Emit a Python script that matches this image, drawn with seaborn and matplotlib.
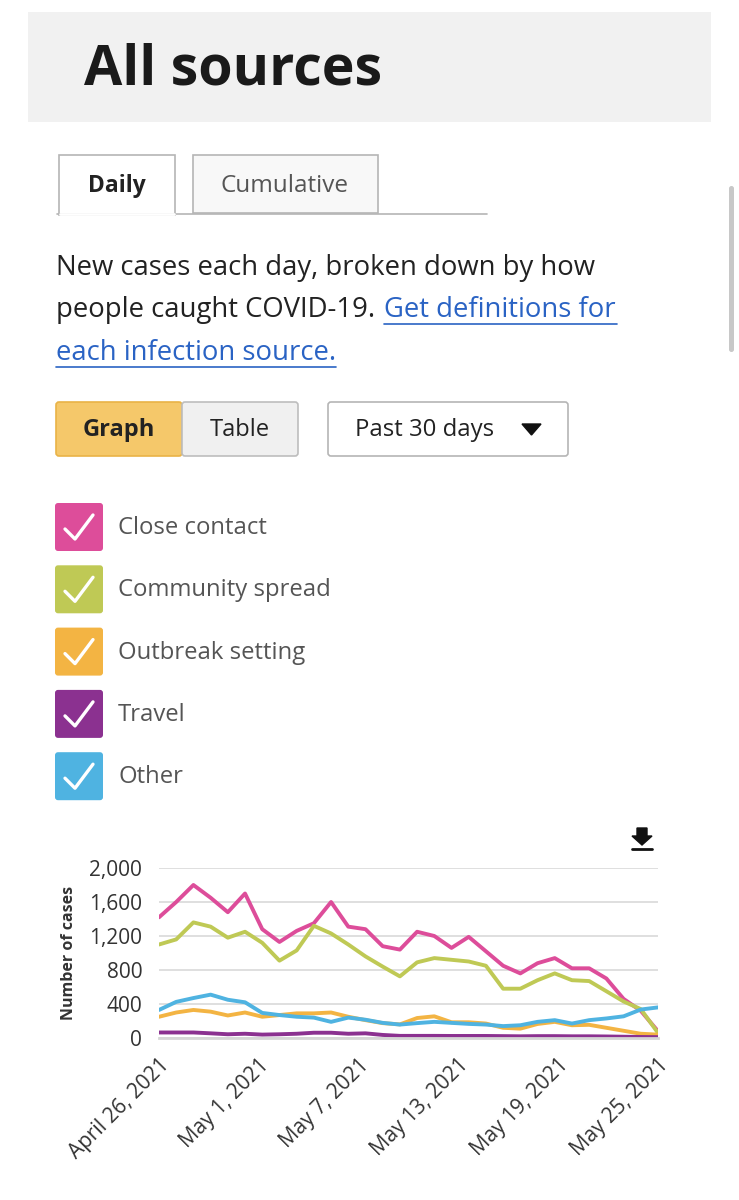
import numpy as np
import pandas as pd
import matplotlib
matplotlib.use("Agg")
import matplotlib.pyplot as plt
from matplotlib.patches import Rectangle, FancyBboxPatch, Polygon
import seaborn as sns

# data (April 26 - May 25, 2021)
days = list(range(30))
close_contact = [1420, 1600, 1800, 1650, 1480, 1700, 1280, 1130, 1260, 1350,
                 1600, 1310, 1280, 1080, 1040, 1250, 1200, 1060, 1190, 1020,
                 850, 760, 880, 940, 820, 820, 700, 460, 320, 80]
community_spread = [1100, 1160, 1360, 1310, 1180, 1250, 1120, 910, 1030, 1320,
                    1230, 1100, 960, 840, 725, 890, 940, 920, 900, 850,
                    580, 580, 680, 760, 680, 670, 550, 430, 340, 60]
outbreak_setting = [250, 300, 330, 310, 265, 300, 250, 270, 290, 290,
                    300, 250, 210, 175, 160, 235, 255, 185, 185, 170,
                    120, 110, 165, 190, 150, 155, 120, 85, 50, 40]
travel = [65, 65, 65, 55, 44, 50, 40, 44, 50, 62,
          62, 50, 55, 36, 25, 25, 25, 24, 24, 24,
          22, 20, 22, 22, 20, 20, 18, 15, 12, 10]
other = [330, 425, 470, 510, 450, 420, 295, 270, 250, 240,
         190, 240, 215, 178, 158, 175, 190, 178, 166, 158,
         140, 150, 190, 210, 170, 210, 230, 255, 335, 360]

sources = ["Close contact", "Community spread", "Outbreak setting", "Travel", "Other"]
colors = ["#dd4d9a", "#bfc955", "#f3b443", "#8b3190", "#4fb3e1"]
x_labels = ["April 26, 2021", "May 1, 2021", "May 7, 2021",
            "May 13, 2021", "May 19, 2021", "May 25, 2021"]
y_ticks = [0, 400, 800, 1200, 1600, 2000]

df = pd.DataFrame({"day": days * 5,
                   "cases": close_contact + community_spread + outbreak_setting + travel + other,
                   "source": np.repeat(sources, len(days))})

sns.set_style("white")
plt.rcParams["font.family"] = ["Open Sans", "DejaVu Sans"]

W, H = 739, 1200
fig = plt.figure(figsize=(W / 100, H / 100), dpi=100)

# page furniture drawn in pixel coordinates
bg = fig.add_axes([0, 0, 1, 1])
bg.set_xlim(0, W)
bg.set_ylim(H, 0)
bg.axis("off")

bg.add_patch(Rectangle((28, 12), 683, 110, color="#f1f1f1", lw=0))
bg.text(84, 70, "All sources", fontsize=40, fontweight="bold", color="#1a1a1a", va="center")

# tabs
bg.plot([57, 487], [214, 214], color="#b5b5b5", lw=1.2)
bg.add_patch(Rectangle((59, 155), 116, 60, facecolor="white", edgecolor="#b5b5b5", lw=1.2))
bg.add_patch(Rectangle((193, 155), 185, 58, facecolor="#f8f8f8", edgecolor="#b5b5b5", lw=1.2))
bg.plot([60, 174], [214, 214], color="white", lw=2)
bg.text(117, 186, "Daily", fontsize=16.5, fontweight="bold", color="#222", ha="center", va="center")
bg.text(285, 186, "Cumulative", fontsize=17.5, color="#555", ha="center", va="center")

# description
fs = 19.8
bg.text(56, 268, "New cases each day, broken down by how", fontsize=fs, color="#222", va="center")
bg.text(56, 310, "people caught COVID-19.", fontsize=fs, color="#222", va="center")
bg.text(384, 310, "Get definitions for", fontsize=fs, color="#2a63c4", va="center")
bg.plot([384, 617], [324, 324], color="#2a63c4", lw=1.2)
bg.text(56, 353, "each infection source.", fontsize=fs, color="#2a63c4", va="center")
bg.plot([56, 336], [367, 367], color="#2a63c4", lw=1.2)

# buttons
bg.add_patch(FancyBboxPatch((56, 402), 126, 54, boxstyle="round,pad=0,rounding_size=3",
                            facecolor="#f5c86a", edgecolor="#e9b347", lw=1.2))
bg.add_patch(FancyBboxPatch((182, 402), 116, 54, boxstyle="round,pad=0,rounding_size=3",
                            facecolor="#f0f0f0", edgecolor="#bdbdbd", lw=1.2))
bg.add_patch(FancyBboxPatch((328, 402), 240, 54, boxstyle="round,pad=0,rounding_size=3",
                            facecolor="white", edgecolor="#b5b5b5", lw=1.2))
bg.text(119, 430, "Graph", fontsize=17, fontweight="bold", color="#222", ha="center", va="center")
bg.text(240, 430, "Table", fontsize=17, color="#222", ha="center", va="center")
bg.text(355, 430, "Past 30 days", fontsize=17.2, color="#222", va="center")
bg.add_patch(Polygon([[522, 424], [541, 424], [531.5, 435]], color="#111"))

# legend with check boxes
for i, (name, c) in enumerate(zip(sources, colors)):
    cy = 527 + i * 62.3
    bg.add_patch(FancyBboxPatch((55, cy - 24), 48, 48, boxstyle="round,pad=0,rounding_size=3",
                                facecolor=c, edgecolor="none"))
    bg.plot([65, 75, 93], [cy + 2, cy + 12, cy - 12], color="white", lw=2.4,
            solid_capstyle="round", solid_joinstyle="round")
    bg.text(118, cy + 1, name, fontsize=17.2, color="#555", va="center")

# download icon
bg.add_patch(Polygon([[637, 828], [647, 828], [647, 836], [652, 836], [642, 845], [632, 836], [637, 836]],
                     color="#111"))
bg.plot([632, 652], [849, 849], color="#111", lw=2)

# scrollbar
bg.add_patch(FancyBboxPatch((729, 186), 5, 166, boxstyle="round,pad=0,rounding_size=2.5",
                            facecolor="#c8c8c8", edgecolor="none"))

# chart
ax = fig.add_axes([159 / W, (H - 1038) / H, (658 - 159) / W, (1038 - 868) / H])
sns.lineplot(data=df, x="day", y="cases", hue="source", palette=colors,
             hue_order=sources, linewidth=2.8, legend=False, ax=ax)
ax.set_xlim(0, 29)
ax.set_ylim(0, 2000)
ax.set_yticks(y_ticks)
ax.set_yticklabels([f"{v:,}" for v in y_ticks], fontsize=15, color="#333")
ax.set_xticks(np.linspace(0, 29, 6))
ax.set_xticklabels(x_labels, rotation=45, ha="right", rotation_mode="anchor",
                   fontsize=15, color="#333")
ax.grid(axis="y", color="#dcdcdc", lw=1.3)
ax.set_axisbelow(True)
for s in ["top", "right", "left"]:
    ax.spines[s].set_visible(False)
ax.spines["bottom"].set_color("#d6d6d6")
ax.spines["bottom"].set_linewidth(2)
ax.tick_params(axis="x", length=8, width=1.3, color="#d6d6d6", pad=4)
ax.tick_params(axis="y", length=0, pad=12)
ax.set_xlabel("")
ax.set_ylabel("Number of cases", fontsize=11.5, fontweight="bold", color="#333", labelpad=9)
ax.patch.set_alpha(0)

fig.savefig("out.png", dpi=100)
